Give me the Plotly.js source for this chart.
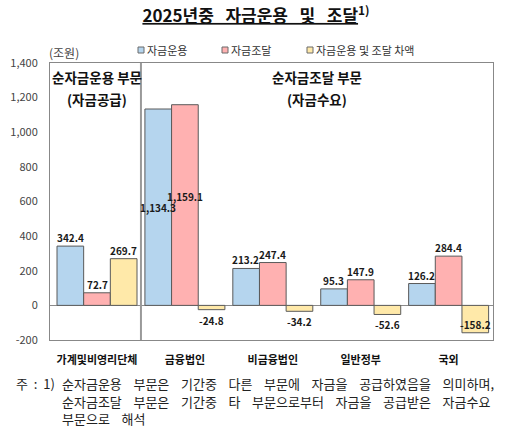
<!DOCTYPE html>
<html>
<head>
<meta charset="utf-8">
<script src="https://cdn.plot.ly/plotly-3.0.1.min.js"></script>
<style>html,body{margin:0;padding:0;background:#fff;}#chart{width:512px;height:427px;}</style>
</head>
<body>
<div id="chart"></div>
<script>
// ---- data ----
const categories = ["가계및비영리단체", "금융법인", "비금융법인", "일반정부", "국외"];
const seriesNames = ["자금운용", "자금조달", "자금운용 및 조달 차액"];
const useOfFunds = [342.4, 1134.3, 213.2, 95.3, 126.2];
const raisingOfFunds = [72.7, 1159.1, 247.4, 147.9, 284.4];
const netDifference = [269.7, -24.8, -34.2, -52.6, -158.2];
const yTickValues = [-200, 0, 200, 400, 600, 800, 1000, 1200, 1400];
const titleMain = "2025년중 자금운용 및 조달";
const titleNote = "1)";
const unitLabel = "(조원)";
const sectionLeft = ["순자금운용 부문", "(자금공급)"];
const sectionRight = ["순자금조달 부문", "(자금수요)"];
const footnoteLines = [
  "주 : 1) 순자금운용 부문은 기간중 다른 부문에 자금을 공급하였음을 의미하며,",
  "순자금조달 부문은 기간중 타 부문으로부터 자금을 공급받은 자금수요",
  "부문으로 해석"
];

// ---- layout geometry ----
const W = 512, H = 427;
const M = {l: 50, r: 19, t: 63, b: 87};
const PW = W - M.l - M.r, PH = H - M.t - M.b;
const px2x = px => (px - M.l) / PW;
const py2y = py => (H - M.b - py) / PH;
const yMin = -200, yMax = 1400;
const bargap = 0.09;
const FONT = "'Noto Sans CJK KR', 'Noto Sans', sans-serif";
const widen = (s, n) => s.split(" ").join("\u00A0".repeat(n));

const seriesValues = [useOfFunds, raisingOfFunds, netDifference];
const colors = ["#B5D5EE", "#FFB1B1", "#FFE9A9"];
const edge = "#5a5a5a";

const traces = seriesValues.map((vals, i) => ({
  type: "bar",
  name: seriesNames[i],
  x: categories,
  y: vals,
  marker: {color: colors[i], line: {color: edge, width: 1}},
  hoverinfo: "skip",
  showlegend: false
}));

const fmt = v => v.toLocaleString("en-US", {minimumFractionDigits: 1, maximumFractionDigits: 1});
const unitsPerPx = (yMax - yMin) / PH;
const catPx = PW / categories.length;
const barPx = catPx * (1 - bargap) / seriesValues.length;

const annotations = [];
const shapes = [];
seriesValues.forEach((vals, i) => {
  vals.forEach((v, j) => {
    const a = {
      x: categories[j], xref: "x", yref: "y",
      xshift: (i - 1) * barPx,
      text: fmt(v), showarrow: false,
      font: {family: FONT, size: 10, color: "#1a1a1a", weight: "bold"}
    };
    if (v > 0.7 * yMax) {
      // tall bars: label inside, staggered
      a.y = v / 2; a.yanchor = "middle"; a.yshift = 9 * i;
    } else if (v < 0 && v - 20 * unitsPerPx < yMin) {
      a.y = v; a.yanchor = "bottom"; a.yshift = -1;
    } else if (v >= 0) {
      a.y = v; a.yanchor = "bottom"; a.yshift = -1;
    } else {
      a.y = v; a.yanchor = "top"; a.yshift = -1;
    }
    annotations.push(a);
  });
});

// section headings
const secFont = {family: FONT, size: 13.5, color: "#111", weight: "bold"};
[[sectionLeft, 0], [sectionRight, 2.5]].forEach(([lines, cx]) => {
  lines.forEach((t, k) => {
    annotations.push({x: cx, xref: "x", y: py2y(k === 0 ? 77 : 99), yref: "paper",
      yanchor: "middle", text: t, showarrow: false, font: secFont});
  });
});

// unit label
annotations.push({x: px2x(47), xref: "paper", y: py2y(53), yref: "paper",
  xanchor: "left", yanchor: "middle", text: unitLabel, showarrow: false,
  font: {family: FONT, size: 12, color: "#444"}});

// custom legend (small bordered squares + labels)
const legendX = [138, 222, 307];
const legendY = 50;
seriesNames.forEach((nm, i) => {
  shapes.push({type: "rect", xref: "paper", yref: "paper",
    x0: px2x(legendX[i]), x1: px2x(legendX[i] + 6),
    y0: py2y(legendY + 3), y1: py2y(legendY - 3),
    fillcolor: colors[i], line: {color: "#6a6a6a", width: 1}});
  annotations.push({x: px2x(legendX[i] + 7), xref: "paper", y: py2y(legendY), yref: "paper",
    xanchor: "left", yanchor: "middle", text: nm, showarrow: false,
    font: {family: FONT, size: 11, color: "#333"}});
});

// footnote: prefix "주 : 1)" hanging, body lines aligned
const fnFont = {family: FONT, size: 13, color: "#222"};
const cut = footnoteLines[0].indexOf(")") + 1;
const fnPrefix = footnoteLines[0].slice(0, cut);
const fnFirst = footnoteLines[0].slice(cut).trim();
annotations.push({x: px2x(15), xref: "paper", y: py2y(383), yref: "paper", borderpad: 0,
  xanchor: "left", yanchor: "middle", text: widen(fnPrefix, 2), showarrow: false, font: fnFont});
annotations.push({x: px2x(61), xref: "paper", y: py2y(383), yref: "paper", borderpad: 0,
  xanchor: "left", yanchor: "middle", text: widen(fnFirst, 4), showarrow: false, font: fnFont});
annotations.push({x: px2x(61), xref: "paper", y: py2y(410), yref: "paper", borderpad: 0,
  xanchor: "left", yanchor: "middle", align: "left",
  text: footnoteLines.slice(1).map(t => widen(t, 4)).join("<br>"), showarrow: false, font: fnFont});

// separator between supply and demand sectors
shapes.push({
  type: "line", xref: "x", yref: "paper", x0: 0.5, x1: 0.5, y0: 0, y1: 1,
  line: {color: "#999", width: 2}
});

const layout = {
  width: W, height: H,
  margin: M,
  paper_bgcolor: "#fff", plot_bgcolor: "#fff",
  font: {family: FONT, color: "#333"},
  barmode: "group", bargap: bargap, bargroupgap: 0,
  showlegend: false,
  title: {
    text: "<b><u>" + widen(titleMain, 3) + "</u><sup>" + titleNote + "</sup></b>",
    x: 0.5, xref: "container", xanchor: "center",
    y: 1 - 16 / H, yref: "container", yanchor: "middle",
    font: {family: FONT, size: 17, color: "#111"}
  },
  xaxis: {
    type: "category", showline: true, mirror: true, linecolor: "#888", linewidth: 1,
    ticks: "", showgrid: false, fixedrange: true, ticklabelstandoff: 10,
    tickfont: {family: FONT, size: 11, color: "#111", weight: "bold"}
  },
  yaxis: {
    range: [yMin, yMax], tickvals: yTickValues,
    ticktext: yTickValues.map(v => v.toLocaleString("en-US")),
    showline: true, mirror: true, linecolor: "#888", linewidth: 1,
    showgrid: false, zeroline: true, zerolinecolor: "#8a8a8a", zerolinewidth: 1,
    ticks: "", ticklabelstandoff: 9, fixedrange: true,
    tickfont: {family: FONT, size: 11, color: "#444"}
  },
  shapes: shapes,
  annotations: annotations
};

Plotly.newPlot("chart", traces, layout, {staticPlot: true, displayModeBar: false});
</script>
</body>
</html>
